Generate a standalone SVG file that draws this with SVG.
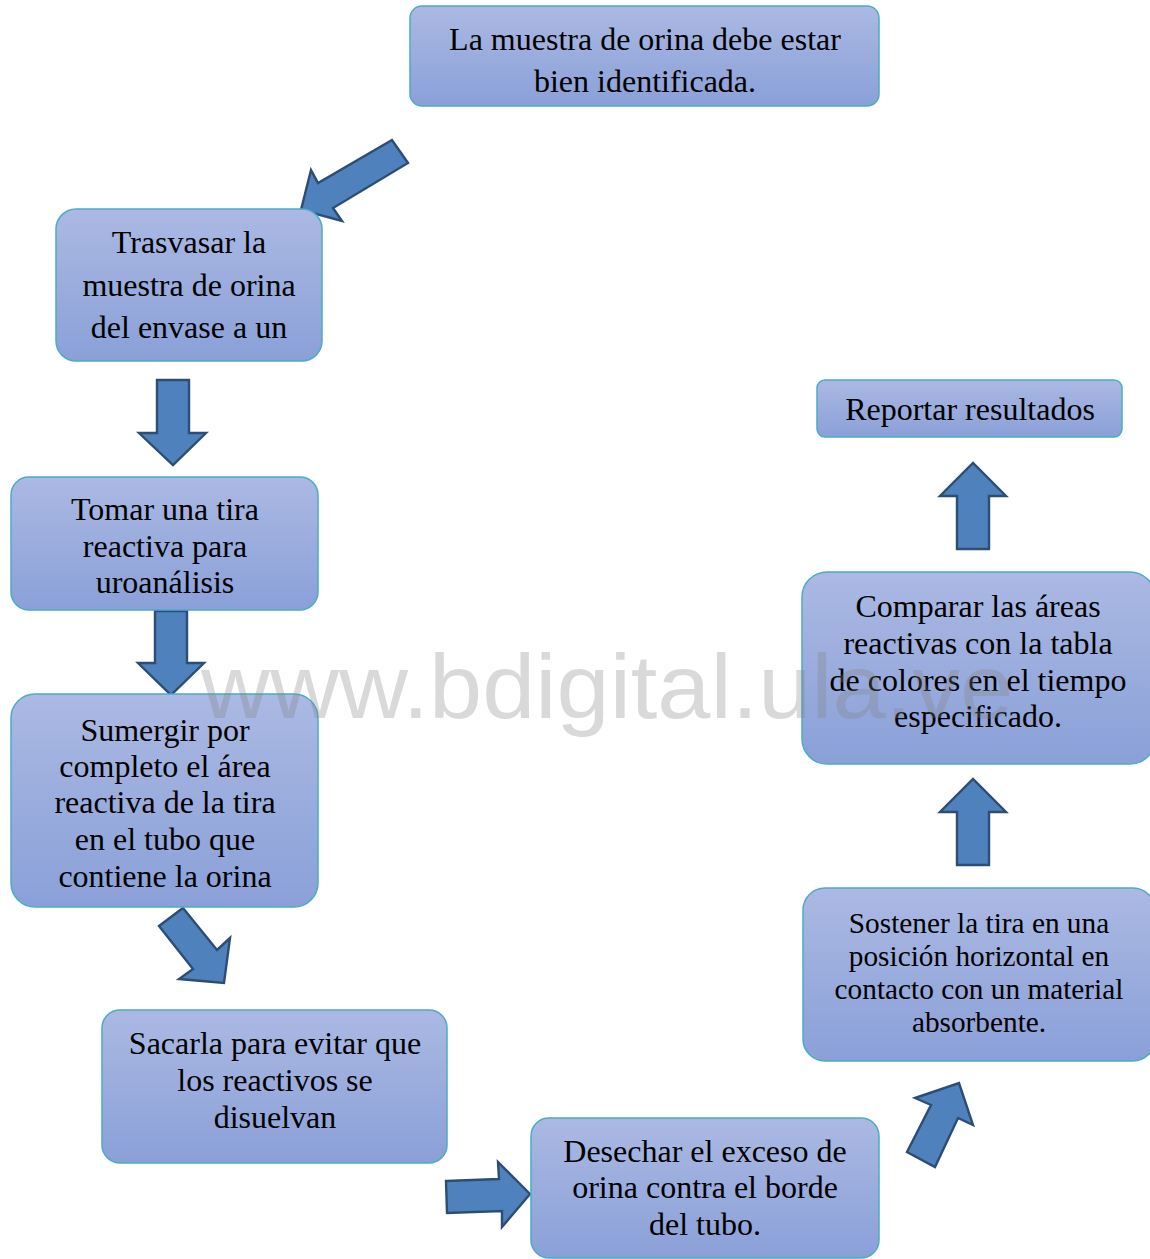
<svg xmlns="http://www.w3.org/2000/svg" width="1150" height="1259" viewBox="0 0 1150 1259">
<defs>
<linearGradient id="bg" x1="0" y1="0" x2="0" y2="1">
<stop offset="0" stop-color="#abb9e3"/>
<stop offset="1" stop-color="#8aa0d8"/>
</linearGradient>
<style>
.box{fill:url(#bg);stroke:#4bacc6;stroke-width:1.5}
.t{font-family:"Liberation Serif","Times New Roman",serif;font-size:32px;fill:#000;text-anchor:middle}
.s{font-size:29.3px}
.arr{fill:#4f81bd;stroke:#2c4d75;stroke-width:2.4;stroke-linejoin:miter}
.wm{font-family:"Liberation Sans",Arial,sans-serif;font-size:90px;fill:#808080;fill-opacity:0.3}
</style>
</defs>
<rect width="1150" height="1259" fill="#fff"/>

<g id="connectors">
<polygon class="arr" points="392,140 318,183 311,170 301,210 342,221 333,208 408,163"/>
<polygon class="arr" points="157,380 189,380 189,433 206,433 173,465 139,433 157,433"/>
<polygon class="arr" points="155,611 187,611 187,663 204,663 171,695 138,663 155,663"/>
<polygon class="arr" points="183,908 217,950 230,938 224,983 179,979 193,969 159,926"/>
<polygon class="arr" points="446,1181 499,1179 498,1162 530,1194 502,1227 502,1211 447,1213"/>
<polygon class="arr" points="907,1152 931,1105 915,1098 959,1083 973,1125 958,1118 935,1167"/>
<polygon class="arr" points="957,865 989,865 989,812 1006,812 973,779 940,812 957,812"/>
<polygon class="arr" points="957,549 989,549 989,496 1006,496 973,463 940,496 957,496"/>
</g>

<g id="n1">
<rect class="box" x="410" y="6" width="469" height="100" rx="12"/>
<text class="t" x="645" y="50">La muestra de orina debe estar</text>
<text class="t" x="645" y="92">bien identificada.</text>
</g>

<g id="n2">
<rect class="box" x="56" y="209" width="266" height="152" rx="20"/>
<text class="t" x="189" y="253">Trasvasar la</text>
<text class="t" x="189" y="296">muestra de orina</text>
<text class="t" x="189" y="338">del envase a un</text>
</g>

<g id="n3">
<rect class="box" x="11" y="477" width="307" height="133" rx="18"/>
<text class="t" x="165" y="520">Tomar una tira</text>
<text class="t" x="165" y="557">reactiva para</text>
<text class="t" x="165" y="593">uroanálisis</text>
</g>

<g id="n4">
<rect class="box" x="11" y="694" width="307" height="213" rx="24"/>
<text class="t" x="165" y="741">Sumergir por</text>
<text class="t" x="165" y="777">completo el área</text>
<text class="t" x="165" y="813">reactiva de la tira</text>
<text class="t" x="165" y="850">en el tubo que</text>
<text class="t" x="165" y="887">contiene la orina</text>
</g>

<g id="n5">
<rect class="box" x="102" y="1010" width="345" height="153" rx="18"/>
<text class="t" x="275" y="1054">Sacarla para evitar que</text>
<text class="t" x="275" y="1091">los reactivos se</text>
<text class="t" x="275" y="1128">disuelvan</text>
</g>

<g id="n6">
<rect class="box" x="531" y="1118" width="348" height="140" rx="18"/>
<text class="t" x="705" y="1162">Desechar el exceso de</text>
<text class="t" x="705" y="1198">orina contra el borde</text>
<text class="t" x="705" y="1235">del tubo.</text>
</g>

<g id="n7">
<rect class="box" x="803" y="888" width="352" height="173" rx="22"/>
<text class="t s" x="979" y="933">Sostener la tira en una</text>
<text class="t s" x="979" y="966">posición horizontal en</text>
<text class="t s" x="979" y="999">contacto con un material</text>
<text class="t s" x="979" y="1032">absorbente.</text>
</g>

<g id="n8">
<rect class="box" x="802" y="572" width="353" height="192" rx="25"/>
<text class="t" x="978" y="617">Comparar las áreas</text>
<text class="t" x="978" y="654">reactivas con la tabla</text>
<text class="t" x="978" y="691">de colores en el tiempo</text>
<text class="t" x="978" y="727">especificado.</text>
</g>

<g id="n9">
<rect class="box" x="817" y="380" width="305" height="57" rx="8"/>
<text class="t" x="970" y="420">Reportar resultados</text>
</g>

<g id="watermark">
<text class="wm" x="201" y="718" textLength="812" lengthAdjust="spacingAndGlyphs">www.bdigital.ula.ve</text>
</g>
</svg>
